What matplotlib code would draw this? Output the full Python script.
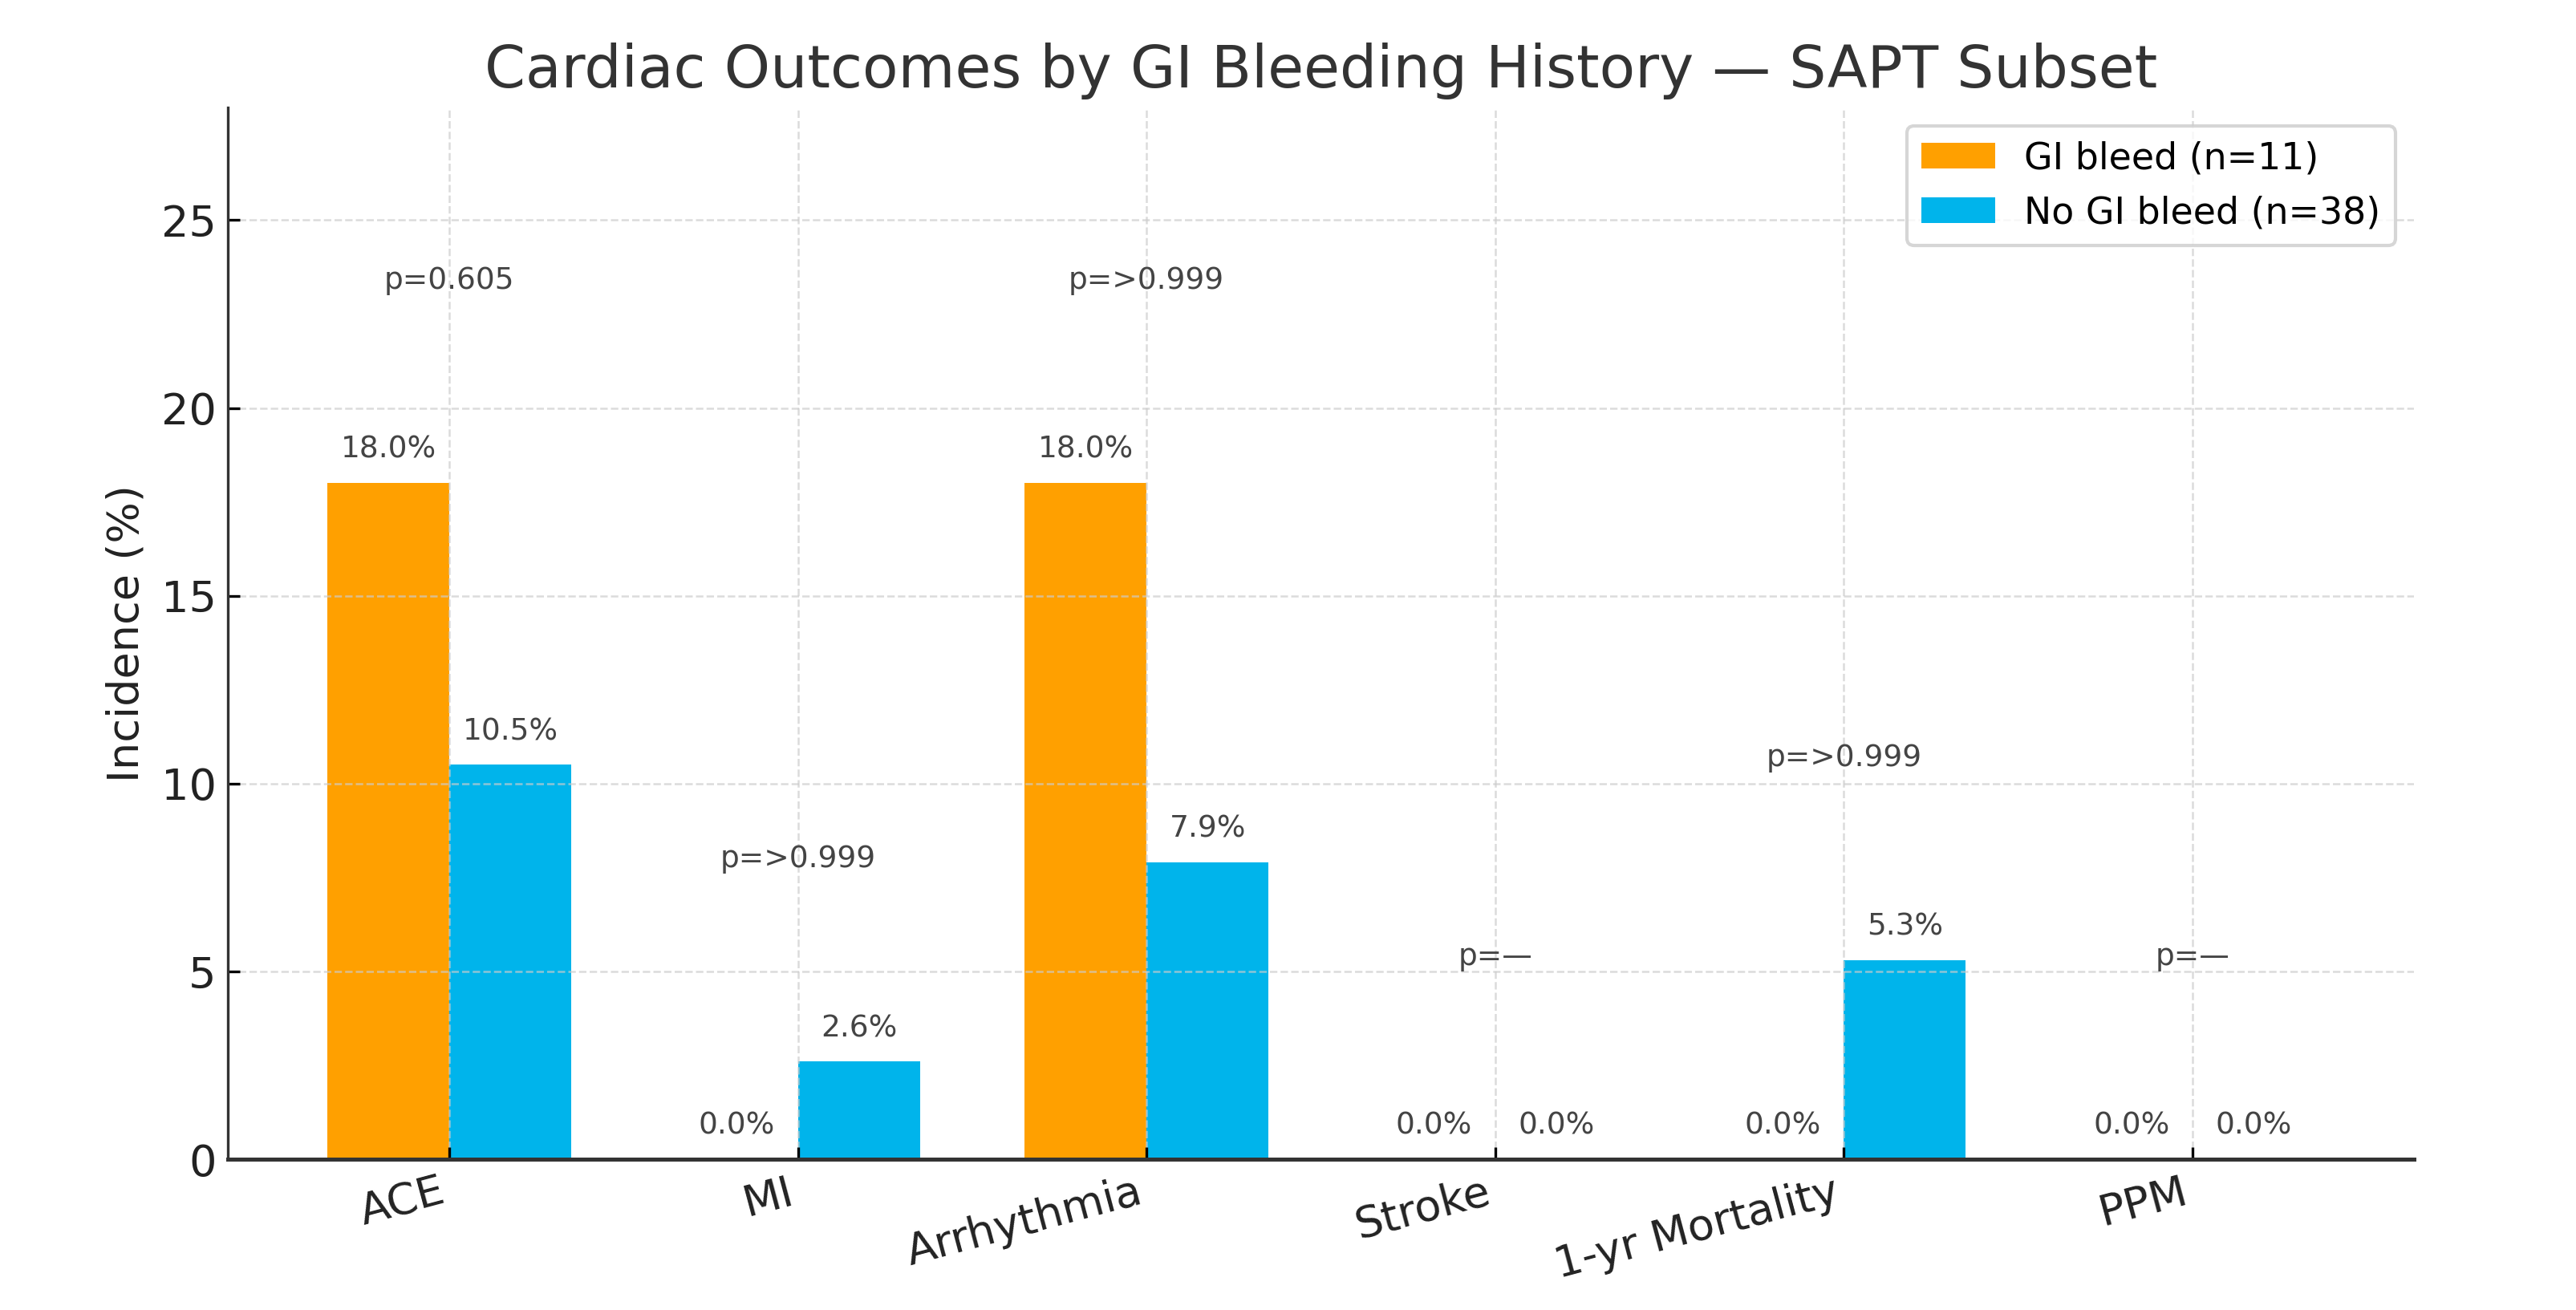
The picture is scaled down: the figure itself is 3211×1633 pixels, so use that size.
import matplotlib.pyplot as plt
import numpy as np

plt.rcParams['figure.dpi'] = 300

categories = ['ACE', 'MI', 'Arrhythmia', 'Stroke', '1-yr Mortality', 'PPM']
gi_bleed = [18.0, 0.0, 18.0, 0.0, 0.0, 0.0]
no_gi_bleed = [10.5, 2.6, 7.9, 0.0, 5.3, 0.0]
p_values = ['0.605', '>0.999', '>0.999', '—', '>0.999', '—']

x = np.arange(len(categories))
w = 0.35

fig = plt.figure(figsize=(3211 / 300, 1633 / 300))
ax = fig.add_axes([0.0885, 0.115, 0.8485, 0.803])

b1 = ax.bar(x - w / 2, gi_bleed, w, color='#FFA000', label='GI bleed (n=11)')
b2 = ax.bar(x + w / 2, no_gi_bleed, w, color='#00B4EB', label='No GI bleed (n=38)')

# value labels above each bar
for bars in (b1, b2):
    for b in bars:
        h = b.get_height()
        ax.text(b.get_x() + b.get_width() / 2, h + 0.5, f'{h:.1f}%',
                ha='center', va='bottom', fontsize=9, color='#444444')

# p-values above each group
for i, p in enumerate(p_values):
    top = max(gi_bleed[i], no_gi_bleed[i])
    ax.text(x[i], top + 5, f'p={p}', ha='center', va='bottom',
            fontsize=9, color='#444444')

ax.set_ylim(0, 28)
ax.set_yticks([0, 5, 10, 15, 20, 25])
ax.set_xticks(x)
ax.set_xticklabels(categories, rotation=15, ha='right', fontsize=13, color='#222222')
ax.tick_params(axis='y', labelsize=13, labelcolor='#222222', direction='in')
ax.tick_params(axis='x', direction='in')
ax.set_ylabel('Incidence (%)', fontsize=13, color='#222222')
ax.set_title('Cardiac Outcomes by GI Bleeding History — SAPT Subset',
             fontsize=17.5, color='#333333')

ax.grid(True, linestyle='--', color='#cccccc', alpha=0.7, linewidth=0.6)
ax.spines['top'].set_visible(False)
ax.spines['right'].set_visible(False)
ax.spines['left'].set_color('#333333')
ax.spines['bottom'].set_color('#333333')
ax.spines['bottom'].set_linewidth(1.2)

ax.legend(loc='upper right', fontsize=11, frameon=True)

plt.savefig('out.png', dpi=300)
